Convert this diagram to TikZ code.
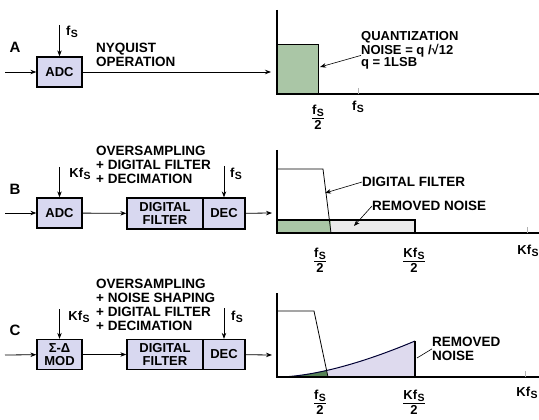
\documentclass[tikz,border=0pt]{standalone}
\usepackage{amsmath}
\usepackage{fontspec}
\setmainfont{Liberation Sans}
\usetikzlibrary{calc,arrows.meta}
\definecolor{boxfill}{RGB}{216,216,240}
\definecolor{noisegreen}{RGB}{170,198,166}
\definecolor{noisegrey}{RGB}{234,234,234}
\definecolor{shapedfill}{RGB}{222,218,238}
\definecolor{darkgreen}{RGB}{86,130,86}
\newcommand{\fsub}{f\kern0.5pt\raisebox{-2.5pt}{\fontsize{10.5}{10.5}\selectfont S}}
\newcommand{\half}[1]{$\genfrac{}{}{1.2pt}{}{\mbox{#1}}{\mbox{2}}$}

\begin{document}
\begin{tikzpicture}[
        x=1pt, y=-1pt,
        >={Stealth[length=6pt, width=4.5pt]},
        block/.style={draw, line width=1.3pt, fill=boxfill,
                      minimum height=30pt, inner sep=1pt,
                      align=center, font=\bfseries\fontsize{13}{13.5}\selectfont},
        note/.style={inner sep=0pt, align=left,
                     font=\bfseries\fontsize{13.5}{13.8}\selectfont},
        tick/.style={inner sep=0pt, font=\bfseries\fontsize{13}{13}\selectfont},
        rowlabel/.style={inner sep=0pt, font=\bfseries\fontsize{15}{15}\selectfont},
        arr/.style={->, line width=0.8pt},
        ptr/.style={->, line width=0.6pt},
        axis/.style={line width=1.6pt}
      ]
        \useasboundingbox (0,0) rectangle (539,420);

        % row A
        \node[rowlabel] (labA) at (15,47) {A};
        \node[block, minimum width=45pt] (adcA) at (59.5,72) {ADC};
        \coordinate (inA) at (5,72);
        \coordinate (clkA) at (59.5,25);
        \coordinate (outA) at (271,72);
        \node[tick] (fsA) at (72,32) {\fsub};
        \node[note, anchor=north west] (nyq) at (96,43) {NYQUIST\\OPERATION};
        \draw[arr] (inA) -- (adcA);
        \draw[arr] (clkA) -- (adcA);
        \draw[arr] (adcA) -- (outA);

        % row B
        \node[rowlabel] (labB) at (15,189) {B};
        \node[block, minimum width=45pt] (adcB) at (59.5,213) {ADC};
        \node[block, minimum width=76pt, minimum height=31pt] (filtB) at (165,213.5) {DIGITAL\\FILTER};
        \node[block, minimum width=42pt, minimum height=31pt] (decB) at (224,213.5) {DEC};
        \coordinate (inB) at (5,213);
        \coordinate (clkB) at (59.5,167);
        \coordinate (clkdB) at (224,166);
        \coordinate (outB) at (272,213);
        \node[tick] (kfsB) at (80,174) {K\fsub};
        \node[tick] (fsB) at (236,174) {\fsub};
        \node[note, anchor=north west] (osB) at (96,146)
          {OVERSAMPLING\\+ DIGITAL FILTER\\+ DECIMATION};
        \draw[arr] (inB) -- (adcB);
        \draw[arr] (clkB) -- (adcB);
        \draw[arr] (adcB) -- (filtB);
        \draw[arr] (clkdB) -- (decB);
        \draw[arr] (decB) -- (outB);

        % row C
        \node[rowlabel] (labC) at (15,330) {C};
        \node[block, minimum width=45pt] (modC) at (59.5,354.5) {Σ-Δ\\MOD};
        \node[block, minimum width=76pt, minimum height=30pt] (filtC) at (165,354.5) {DIGITAL\\FILTER};
        \node[block, minimum width=42pt, minimum height=30pt] (decC) at (224,354.5) {DEC};
        \coordinate (inC) at (5,355);
        \coordinate (clkC) at (59.5,309);
        \coordinate (clkdC) at (224,308);
        \coordinate (outC) at (272,355);
        \node[tick] (kfsC) at (79,317) {K\fsub};
        \node[tick] (fsC) at (237,317) {\fsub};
        \node[note, anchor=north west] (osC) at (96,279)
          {OVERSAMPLING\\+ NOISE SHAPING\\+ DIGITAL FILTER\\+ DECIMATION};
        \draw[arr] (inC) -- (modC);
        \draw[arr] (clkC) -- (modC);
        \draw[arr] (modC) -- (filtC);
        \draw[arr] (clkdC) -- (decC);
        \draw[arr] (decC) -- (outC);

        % spectrum A
        \fill[noisegreen] (277,45) rectangle (318,94);
        \draw[line width=1pt] (277,45) -- (318,45) -- (318,94);
        \draw[axis] (277,10) -- (277,94) -- (539,94);
        \draw[gray!60, line width=0.5pt] (358,88) -- (358,94);
        \node[tick] (halfA) at (318,117) {\half{\fsub}};
        \node[tick] (fullA) at (358,107) {\fsub};
        \node[note, anchor=north west, font=\bfseries\fontsize{13}{12.8}\selectfont] (qnote) at (361,31)
          {QUANTIZATION\\NOISE = q /√12\\q = 1LSB};
        \coordinate (qtip) at (320,67);
        \draw[ptr] ($(qnote.west)+(0,5)$) -- (qtip);

        % spectrum B
        \fill[noisegreen] (277,220) rectangle (331,233);
        \fill[noisegrey] (331,220) rectangle (415,233);
        \draw[line width=1.2pt] (277,220) rectangle (415,233);
        \draw[line width=0.8pt] (277,169) -- (323,169) -- (331,233);
        \draw[axis] (277,150) -- (277,233) -- (539,233);
        \draw[gray!60, line width=0.5pt] (527,227) -- (527,233);
        \node[tick] (halfB) at (320,260) {\half{\fsub}};
        \node[tick] (khalfB) at (414,260) {\half{K\fsub}};
        \node[tick] (kfullB) at (528,251) {K\fsub};
        \node[note, anchor=west] (dfB) at (362,182) {DIGITAL FILTER};
        \node[note, anchor=west] (rnB) at (372,206) {REMOVED NOISE};
        \coordinate (dftip) at (325,193);
        \coordinate (rntip) at (354,226);
        \draw[ptr] (dfB.west) -- (dftip);
        \draw[ptr] (rnB.west) -- (rntip);

        % spectrum C
        \begin{scope}
          \clip (277,311) -- (314,311) -- (328,377) -- (277,377) -- cycle;
          \fill[darkgreen] (282,377) .. controls (322,375) and (370,360) .. (415,341) -- (415,377) -- cycle;
        \end{scope}
        \begin{scope}
          \clip (314,311) -- (328,377) -- (420,377) -- (420,311) -- cycle;
          \fill[shapedfill] (282,377) .. controls (322,375) and (370,360) .. (415,341) -- (415,377) -- cycle;
        \end{scope}
        \draw[line width=1pt, black!80!blue] (282,377) .. controls (322,375) and (370,360) .. (415,341);
        \draw[line width=2pt] (415,341) -- (415,377);
        \draw[line width=0.8pt] (277,311) -- (314,311) -- (328,377);
        \draw[axis] (277,293) -- (277,377) -- (539,377);
        \draw[gray!60, line width=0.5pt] (525,371) -- (525,377);
        \node[tick] (halfC) at (320,402) {\half{\fsub}};
        \node[tick] (khalfC) at (414,402) {\half{K\fsub}};
        \node[tick] (kfullC) at (527,393) {K\fsub};
        \node[note, anchor=north west] (rnC) at (432,337) {REMOVED\\NOISE};
        \coordinate (rnCtip) at (417,358);
        \draw[line width=0.6pt] (rnC.west) -- (rnCtip);
      \end{tikzpicture}
\end{document}
